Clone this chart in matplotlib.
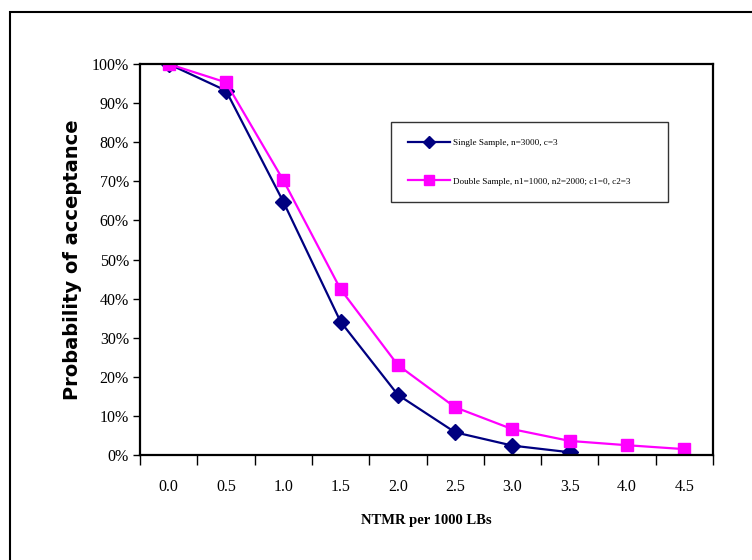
import matplotlib

matplotlib.use("Agg")

import matplotlib.pyplot as plt
from matplotlib.patches import Rectangle
from matplotlib.ticker import FixedLocator, PercentFormatter

# ---------------------------------------------------------------------------
# Data
# ---------------------------------------------------------------------------
ntmr_labels = ["0.0", "0.5", "1.0", "1.5", "2.0", "2.5", "3.0", "3.5", "4.0", "4.5"]
single_pa = [100.0, 93.2, 64.8, 34.1, 15.4, 5.8, 2.4, 0.7]
double_pa = [100.0, 95.3, 70.3, 42.4, 23.0, 12.2, 6.6, 3.6, 2.5, 1.5]

single_label = "Single Sample, n=3000, c=3"
double_label = "Double Sample, n1=1000, n2=2000; c1=0, c2=3"

serif = "Liberation Serif"

fig = plt.figure(figsize=(7.52, 5.60), dpi=100)
W, H = 752, 560

# outer chart frame (runs off the right and bottom edges)
fig.patches.append(
    Rectangle((10 / W, -0.05), 1.0, 1.05 - 12 / H, transform=fig.transFigure,
              fill=False, edgecolor="black", linewidth=1.5)
)

ax_l, ax_r, ax_t, ax_b = 140, 713, 64, 455
ax = fig.add_axes([ax_l / W, 1 - ax_b / H, (ax_r - ax_l) / W, (ax_b - ax_t) / H])

x = range(len(ntmr_labels))
ax.plot(range(len(single_pa)), single_pa, color="#000080", linewidth=1.6,
        marker="D", markersize=8, label=single_label)
ax.plot(range(len(double_pa)), double_pa, color="#FF00FF", linewidth=1.6,
        marker="s", markersize=9, label=double_label)

ax.set_xlim(-0.5, len(ntmr_labels) - 0.5)
ax.set_ylim(0, 100)
ax.set_yticks(range(0, 101, 10))
ax.yaxis.set_major_formatter(PercentFormatter(decimals=0))
# tick marks between categories, labels centred on them
ax.xaxis.set_major_locator(FixedLocator([i - 0.5 for i in range(len(ntmr_labels) + 1)]))
ax.set_xticks(list(x), minor=True)
ax.set_xticklabels(ntmr_labels, minor=True)
ax.tick_params(axis="x", which="major", direction="out", length=7, width=1,
               labelbottom=False)
ax.tick_params(axis="x", which="minor", length=0, pad=17, labelsize=11.5)
ax.tick_params(axis="y", direction="out", length=5, width=1, labelsize=11.5, pad=3)
for lab in ax.get_xticklabels(minor=True) + ax.get_yticklabels():
    lab.set_fontfamily(serif)

for s in ax.spines.values():
    s.set_linewidth(1.6)

ax.set_xlabel("NTMR per 1000 LBs", fontfamily=serif, fontweight="bold",
              fontsize=10.5, labelpad=14)
ax.set_ylabel("Probability of acceptance", fontfamily="DejaVu Sans",
              fontweight="bold", fontsize=14, labelpad=7)

# legend box: x 391-668, y 122-201 in pixels
lw = ax_r - ax_l
lh = ax_b - ax_t
leg = ax.legend(loc="upper left",
                bbox_to_anchor=((391 - ax_l) / lw, 1 - (122 - ax_t) / lh,
                                (668 - 391) / lw, 0),
                mode="expand", prop={"family": serif, "size": 6.6},
                frameon=True, fancybox=False, edgecolor="black",
                borderpad=1.8, labelspacing=3.3, markerscale=0.75,
                handlelength=4.6, handletextpad=0.35, borderaxespad=0)
leg.get_frame().set_linewidth(1.0)

fig.savefig("out.png", dpi=100)
